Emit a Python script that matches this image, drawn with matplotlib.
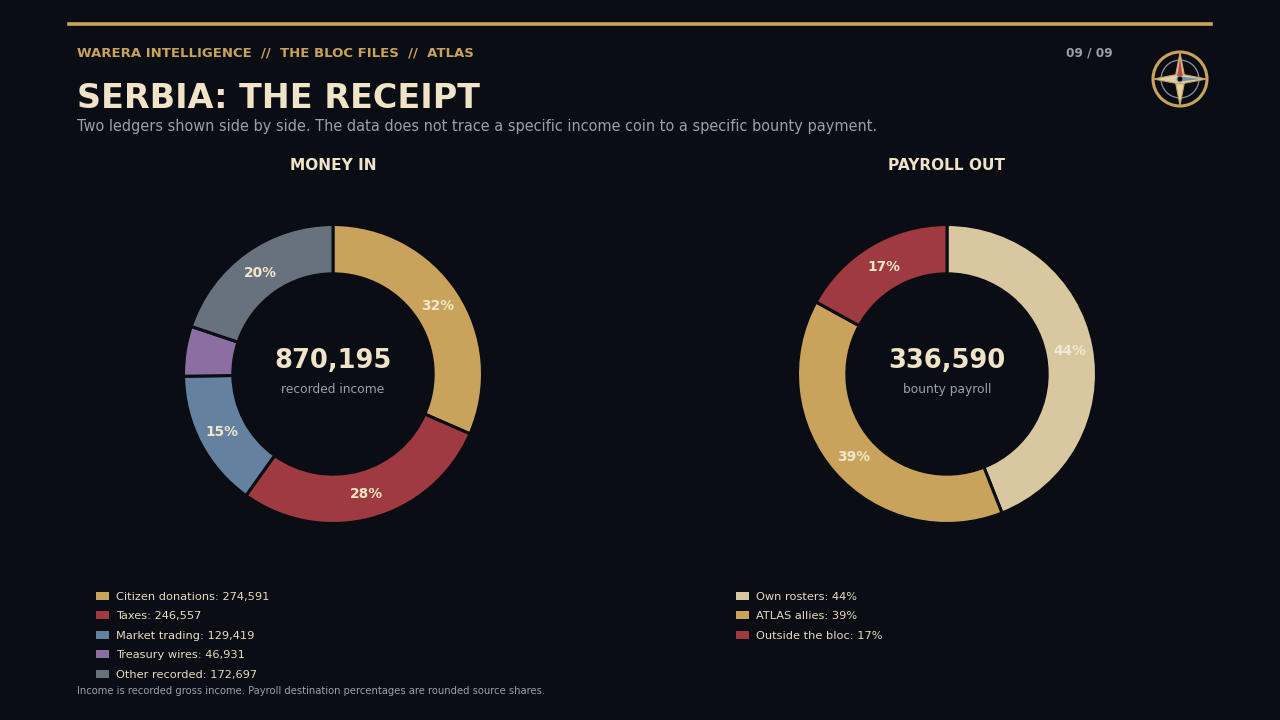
import matplotlib
matplotlib.use("Agg")
import matplotlib.pyplot as plt
from matplotlib.patches import Patch, Circle, Polygon

plt.rcParams["font.family"] = ["DejaVu Sans"]

# ---------------- data ----------------
income_labels = ["Citizen donations", "Taxes", "Market trading", "Treasury wires", "Other recorded"]
income_values = [274591, 246557, 129419, 46931, 172697]
income_total = 870195

payroll_labels = ["Own rosters", "ATLAS allies", "Outside the bloc"]
payroll_shares = [44, 39, 17]
payroll_total = 336590

header = "WARERA INTELLIGENCE  //  THE BLOC FILES  //  ATLAS"
page = "09 / 09"
title = "SERBIA: THE RECEIPT"
subtitle = "Two ledgers shown side by side. The data does not trace a specific income coin to a specific bounty payment."
footer = "Income is recorded gross income. Payroll destination percentages are rounded source shares."

# ---------------- style ----------------
BG = "#0a0d14"
GOLD = "#c9a35c"
RED = "#9e3a40"
BLUE = "#64829f"
PURPLE = "#8d6ea3"
GRAY = "#67727e"
CREAM = "#d9c7a0"
TEXT = "#efe3c8"
MUTED = "#9aa0ab"

income_colors = [GOLD, RED, BLUE, PURPLE, GRAY]
payroll_colors = [CREAM, GOLD, RED]

W, H = 1280, 720
fig = plt.figure(figsize=(12.8, 7.2), dpi=100, facecolor=BG)


def px_axes(x0, y0, w, h):
    """x0,y0 = top-left in pixels."""
    return fig.add_axes([x0 / W, 1 - (y0 + h) / H, w / W, h / H])


# top rule
fig.add_artist(plt.Line2D([69 / W, 1211 / W], [1 - 24 / H, 1 - 24 / H], color=GOLD, lw=2.6))

fig.text(77 / W, 1 - 53 / H, header, color=GOLD, fontsize=9.55, fontweight="bold", va="center", ha="left")
fig.text(1113 / W, 1 - 53 / H, page, color=MUTED, fontsize=8.7, fontweight="bold", va="center", ha="right")
fig.text(77 / W, 1 - 98 / H, title, color=TEXT, fontsize=24, fontweight="bold", va="center", ha="left")
fig.text(77 / W, 1 - 126 / H, subtitle, color=MUTED, fontsize=10.45, va="center", ha="left")
fig.text(77 / W, 1 - 691.5 / H, footer, color=MUTED, fontsize=7.2, va="center", ha="left")


def donut(cx, cy, r, values, colors, section, big, small, fmt_thresh=6):
    ax = px_axes(cx - r, cy - r, 2 * r, 2 * r)
    ax.set_facecolor(BG)

    def fmt(p):
        return f"{p:.0f}%" if p >= fmt_thresh else ""

    wedges, texts, autotexts = ax.pie(
        values, colors=colors, startangle=90, counterclock=False,
        wedgeprops=dict(width=0.33, edgecolor=BG, linewidth=2.2),
        autopct=fmt, pctdistance=0.835, radius=1.0,
        textprops=dict(color="#f2e6cc", fontsize=9.9, fontweight="bold"))
    ax.set_xlim(-1.0, 1.0)
    ax.set_ylim(-1.0, 1.0)
    ax.set_aspect("equal")
    ax.axis("off")
    ax.text(0, 0.085, big, color=TEXT, fontsize=18.5, fontweight="bold", ha="center", va="center")
    ax.text(0, -0.105, small, color=MUTED, fontsize=8.8, ha="center", va="center")
    fig.text(cx / W, 1 - 165 / H, section, color=TEXT, fontsize=11.1, fontweight="bold", ha="center", va="center")
    return ax


donut(333, 374, 149.5, income_values, income_colors, "MONEY IN", f"{income_total:,}", "recorded income")
ax2 = donut(947, 374, 149.5, payroll_shares, payroll_colors, "PAYROLL OUT", f"{payroll_total:,}", "bounty payroll")

for t in ax2.texts:
    if t.get_text() == "44%":
        t.set_color("#f0e8d6")


def legend(x0, y0, labels, colors):
    handles = [Patch(facecolor=c, edgecolor="none") for c in colors]
    leg = fig.legend(handles, labels, loc="upper left", bbox_to_anchor=(x0 / W, 1 - y0 / H),
                     frameon=False, fontsize=8.2, handlelength=1.15, handleheight=0.72,
                     handletextpad=0.6, labelspacing=0.82, borderpad=0, borderaxespad=0)
    for t in leg.get_texts():
        t.set_color("#e8dcc0")
    return leg


legend(96, 592, [f"{l}: {v:,}" for l, v in zip(income_labels, income_values)], income_colors)
legend(736, 592, [f"{l}: {v}%" for l, v in zip(payroll_labels, payroll_shares)], payroll_colors)

# compass decoration
cax = px_axes(1180 - 30, 79 - 30, 60, 60)
cax.set_xlim(-1, 1)
cax.set_ylim(-1, 1)
cax.set_aspect("equal")
cax.axis("off")
cax.add_patch(Circle((0, 0), 0.9, fill=False, edgecolor=GOLD, lw=2.2))
cax.add_patch(Circle((0, 0), 0.63, fill=False, edgecolor="#8a93a0", lw=0.9))
L, w = 0.88, 0.17
cax.add_patch(Polygon([(0, L), (w, 0), (0, -L), (-w, 0)], closed=True, facecolor="#e0cfa5", edgecolor=GOLD, lw=0.8))
cax.add_patch(Polygon([(L, 0), (0, w), (-L, 0), (0, -w)], closed=True, facecolor="#e0cfa5", edgecolor=GOLD, lw=0.8))
cax.add_patch(Polygon([(0, 0.7), (0.09, 0.1), (-0.09, 0.1)], closed=True, facecolor="#b8474a", edgecolor="none"))
cax.add_patch(Polygon([(0.7, 0), (0.1, 0.07), (0.1, -0.07)], closed=True, facecolor="#6f8fae", edgecolor="none"))
cax.add_patch(Circle((0, 0), 0.1, facecolor=BG, edgecolor="#8a93a0", lw=0.8))

fig.savefig("out.png", dpi=100, facecolor=BG)
